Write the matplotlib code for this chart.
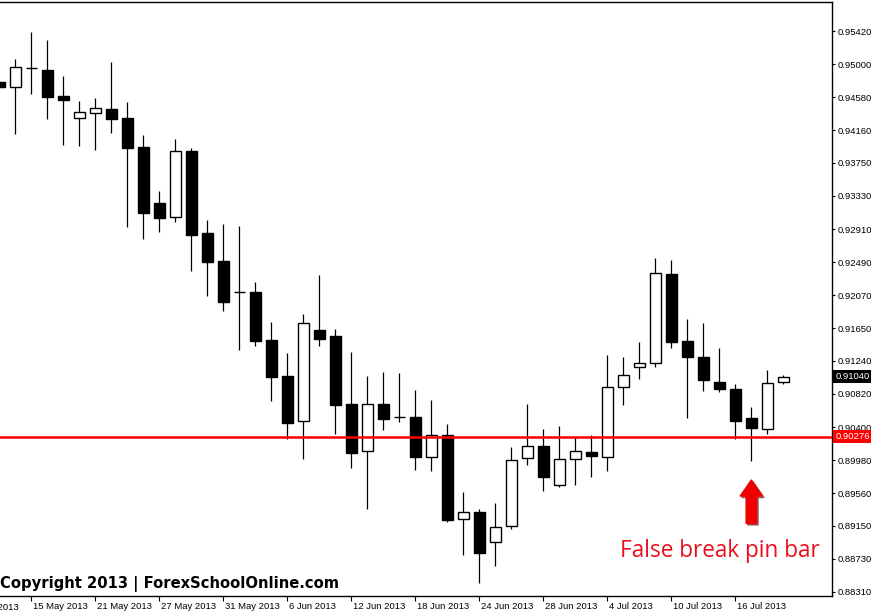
import matplotlib
matplotlib.use("Agg")
import matplotlib.pyplot as plt
from matplotlib.transforms import blended_transform_factory, ScaledTranslation
import numpy as np

# ---- data (daily candles, 13 May 2013 .. 19 Jul 2013) ----
opens = [0.94774, 0.94706, 0.94947, 0.94926, 0.94596, 0.94321, 0.94385, 0.94431, 0.94317, 0.93950,
         0.93240, 0.93059, 0.93899, 0.92860, 0.92505, 0.92112, 0.92112, 0.91504, 0.91048, 0.90473,
         0.91630, 0.91554, 0.90693, 0.90093, 0.90693, 0.90528, 0.90528, 0.90025, 0.90300, 0.89239,
         0.89324, 0.88947, 0.89143, 0.90004, 0.90160, 0.89670, 0.89992, 0.90084, 0.90017, 0.90912,
         0.91158, 0.91208, 0.92340, 0.91491, 0.91288, 0.90971, 0.90883, 0.90515, 0.90372, 0.90975]
highs = [0.94786, 0.95061, 0.95404, 0.95302, 0.94850, 0.94533, 0.94571, 0.95027, 0.94520, 0.94102,
         0.93392, 0.94051, 0.93933, 0.93025, 0.92974, 0.92949, 0.92239, 0.91732, 0.91339, 0.91833,
         0.92328, 0.91643, 0.91352, 0.91048, 0.91098, 0.91086, 0.90870, 0.90743, 0.90439, 0.89577,
         0.89362, 0.89434, 0.90144, 0.90693, 0.90376, 0.90414, 0.90274, 0.90300, 0.91314, 0.91288,
         0.91478, 0.92547, 0.92518, 0.91770, 0.91723, 0.91402, 0.90946, 0.90658, 0.91124, 0.91060]
lows = [0.94698, 0.94118, 0.94625, 0.94309, 0.93975, 0.93963, 0.93912, 0.94131, 0.92940, 0.92778,
        0.92876, 0.93003, 0.92382, 0.92065, 0.91875, 0.91381, 0.91432, 0.90734, 0.90253, 0.89999,
        0.91432, 0.90316, 0.89885, 0.89358, 0.90367, 0.90468, 0.89860, 0.89847, 0.89201, 0.88783,
        0.88428, 0.88643, 0.89112, 0.89923, 0.89594, 0.89645, 0.89670, 0.89771, 0.89847, 0.90684,
        0.91013, 0.91158, 0.91406, 0.90519, 0.90861, 0.90849, 0.90253, 0.89974, 0.90312, 0.90942]
closes = [0.94710, 0.94960, 0.94947, 0.94587, 0.94546, 0.94393, 0.94444, 0.94305, 0.93941, 0.93117,
          0.93054, 0.93895, 0.92838, 0.92496, 0.91989, 0.92112, 0.91495, 0.91039, 0.90456, 0.91715,
          0.91520, 0.90684, 0.90075, 0.90693, 0.90506, 0.90528, 0.90025, 0.90296, 0.89226, 0.89320,
          0.88808, 0.89130, 0.89983, 0.90156, 0.89771, 0.89996, 0.90093, 0.90037, 0.90904, 0.91056,
          0.91212, 0.92349, 0.91482, 0.91292, 0.91001, 0.90879, 0.90481, 0.90392, 0.90955, 0.91040]

date_tick_idx = [2, 6, 10, 14, 18, 22, 26, 30, 34, 38, 42, 46]
date_tick_labels = ["15 May 2013", "21 May 2013", "27 May 2013", "31 May 2013", "6 Jun 2013",
                    "12 Jun 2013", "18 Jun 2013", "24 Jun 2013", "28 Jun 2013", "4 Jul 2013",
                    "10 Jul 2013", "16 Jul 2013"]
first_date_idx = -2
first_date_label = "9 May 2013"

price_ticks = [0.95420, 0.95000, 0.94580, 0.94160, 0.93750, 0.93330, 0.92910, 0.92490, 0.92070,
               0.91650, 0.91240, 0.90820, 0.90400, 0.89980, 0.89560, 0.89150, 0.88730, 0.88310]
support_level = 0.90276
current_price = 0.91040
pin_bar_idx = 47

# ---- figure ----
W, H = 871, 612
fig = plt.figure(figsize=(W / 100, H / 100), dpi=100)
ax = fig.add_axes([0, (H - 596) / H, 832 / W, (596 - 2) / H])
ax.set_facecolor("white")

n = len(opens)
x = np.arange(n)
o = np.array(opens); c = np.array(closes); hi = np.array(highs); lo = np.array(lows)
bull = c >= o

ax.vlines(x, lo, hi, color="black", lw=0.9, zorder=2)
bw = 0.66
ax.bar(x[bull], (c - o)[bull], bottom=o[bull], width=bw, facecolor="white",
       edgecolor="black", linewidth=1.0, zorder=3)
ax.bar(x[~bull], (o - c)[~bull], bottom=c[~bull], width=bw, facecolor="black",
       edgecolor="black", linewidth=1.0, zorder=3)

# support line
ax.axhline(support_level, color="#ff0000", lw=1.8, zorder=4)

ax.set_xlim(0.044, 52.04)
ax.set_ylim(0.88259, 0.95788)

ax.spines["left"].set_visible(False)
for s in ["top", "right", "bottom"]:
    ax.spines[s].set_linewidth(1.0)
    ax.spines[s].set_color("black")

FONT = "Liberation Sans"
FS = 6.8
tick_font = dict(family=FONT, size=FS)
ax.yaxis.tick_right()
ax.set_yticks(price_ticks)
ax.set_yticklabels([f"{v:.5f}" for v in price_ticks], **tick_font)
ax.tick_params(axis="y", direction="out", length=2.5, width=0.8, pad=1.5, colors="black")

ax.set_xticks(date_tick_idx)
ax.set_xticklabels(date_tick_labels, ha="left", **tick_font)
ax.tick_params(axis="x", direction="out", length=3.5, width=0.8, pad=1.0, colors="black")
off = ScaledTranslation(1.5 / 72, 0, fig.dpi_scale_trans)
for lab in ax.get_xticklabels():
    lab.set_transform(lab.get_transform() + off)

# partially visible first date label
tb = blended_transform_factory(ax.transData, ax.transAxes)
ax.text(first_date_idx, 0, first_date_label,
        transform=tb + ScaledTranslation(1.5 / 72, -5.2 / 72, fig.dpi_scale_trans),
        ha="left", va="top", clip_on=False, **tick_font)

# price label boxes
ty = blended_transform_factory(ax.transAxes, ax.transData)
ax.text(1.004, current_price, f"{current_price:.5f}", transform=ty, ha="left", va="center",
        color="white", fontsize=FS, family=FONT, clip_on=False, zorder=10,
        bbox=dict(boxstyle="square,pad=0.22", fc="black", ec="none"))
ax.text(1.004, support_level, f"{support_level:.5f}", transform=ty, ha="left", va="center",
        color="white", fontsize=FS, family=FONT, clip_on=False, zorder=10,
        bbox=dict(boxstyle="square,pad=0.22", fc="#ff0000", ec="none"))

# arrow pointing at pin bar
tip = lows[pin_bar_idx] - 0.00245
tail = tip - 0.0055
style = "simple,head_length=1.15,head_width=1.6,tail_width=0.75"
ax.annotate("", xy=(pin_bar_idx + 0.1, tip - 0.0002), xytext=(pin_bar_idx + 0.1, tail - 0.0002),
            arrowprops=dict(arrowstyle=style, color="#5a0000", alpha=0.5, mutation_scale=10,
                            shrinkA=0, shrinkB=0), zorder=5)
ax.annotate("", xy=(pin_bar_idx, tip), xytext=(pin_bar_idx, tail),
            arrowprops=dict(arrowstyle=style, color="#f00000", mutation_scale=10,
                            shrinkA=0, shrinkB=0), zorder=6)

fig.text(620 / W, (H - 557) / H, "False break pin bar", color="#e8101e", fontsize=16.3,
         family="Open Sans", ha="left", va="baseline")
fig.text(0 / W, (H - 584) / H, "Copyright 2013 | ForexSchoolOnline.com", color="black",
         fontsize=10.6, family="DejaVu Sans", fontweight="bold", ha="left", va="center")

fig.savefig("out.png", dpi=100)
